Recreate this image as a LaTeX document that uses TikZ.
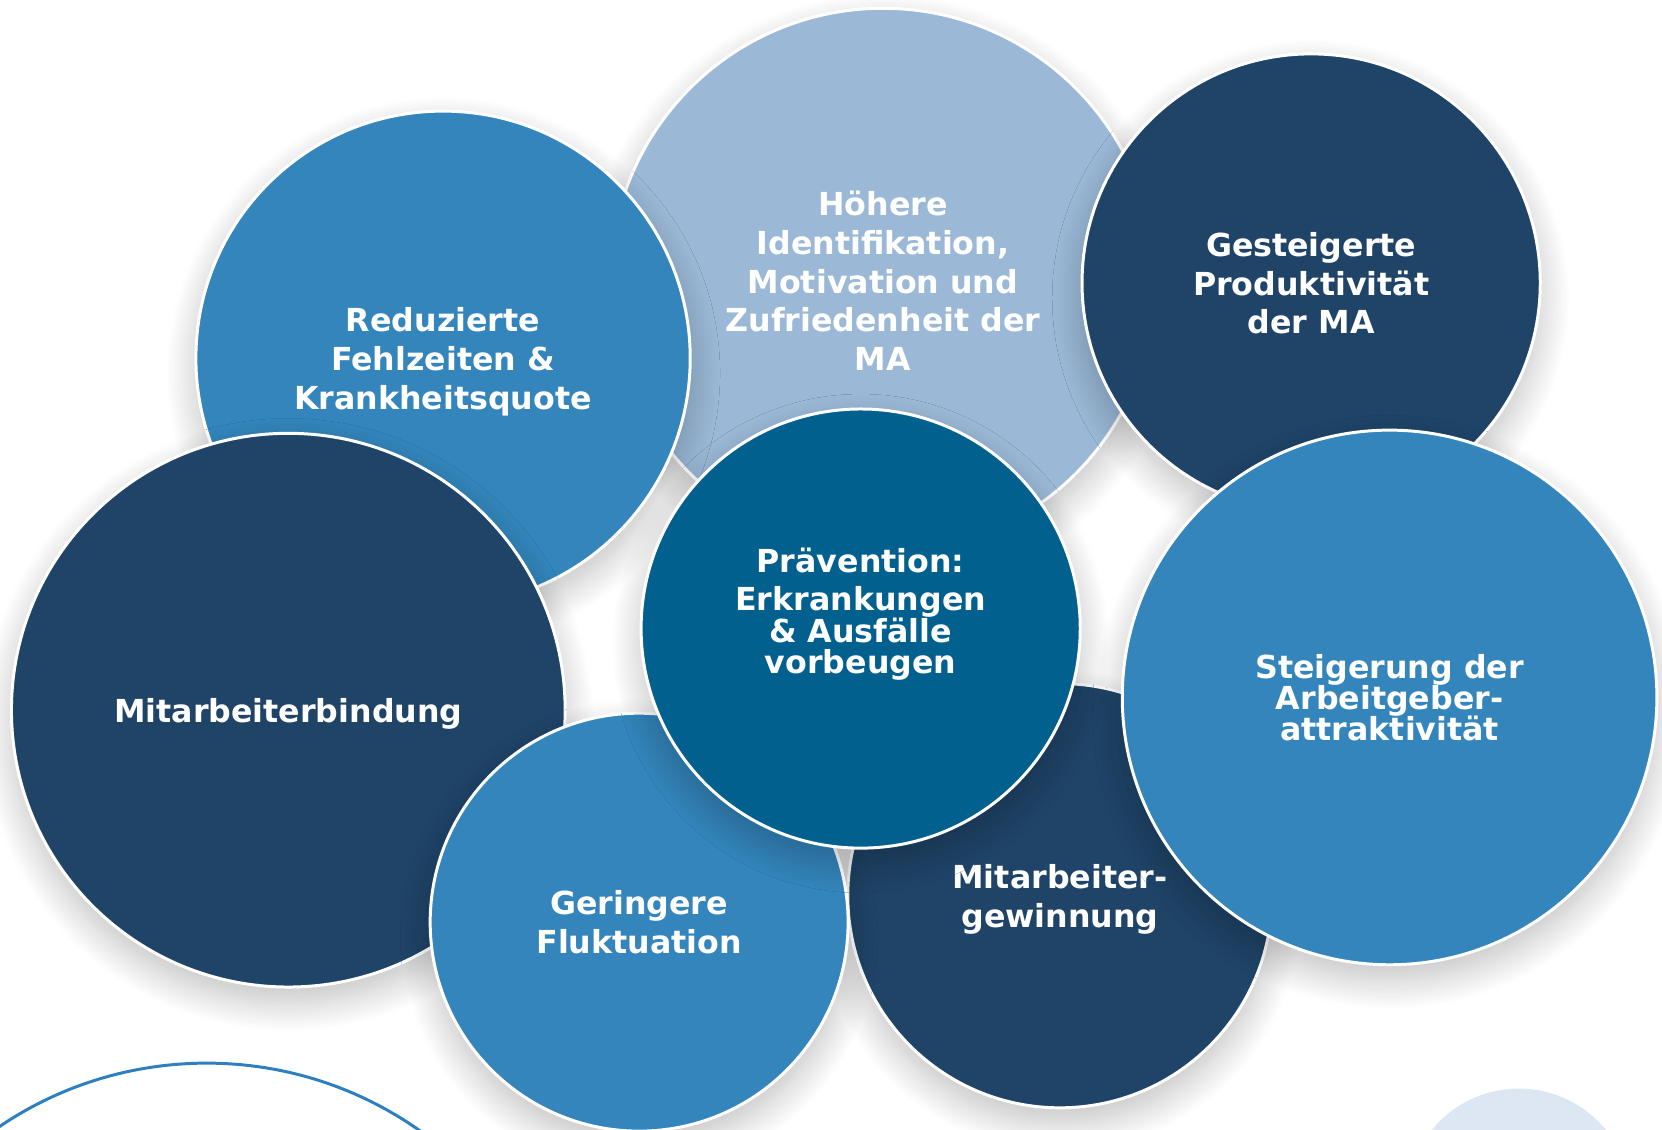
\documentclass[tikz,border=0pt]{standalone}
\usepackage{fontspec}
\setmainfont{DejaVu Sans}
\usetikzlibrary{shadows.blur}

\definecolor{navy}{RGB}{31,68,104}
\definecolor{midblue}{RGB}{51,133,187}
\definecolor{lightblue}{RGB}{155,185,215}
\definecolor{deepblue}{RGB}{2,96,143}
\definecolor{paleblue}{RGB}{220,231,243}
\definecolor{lineblue}{RGB}{46,127,192}

\tikzset{
  bubble/.style={circle, draw=white, line width=0.8pt, inner sep=0pt, minimum size=#1*0.02cm,
    blur shadow={shadow xshift=0pt, shadow yshift=-4pt, shadow blur radius=8pt,
      shadow blur steps=24, shadow opacity=25}},
  txt/.style={text=white, align=center, text depth=0pt, font=\fontsize{8.5}{10.4}\selectfont\bfseries}
}

\begin{document}
\begin{tikzpicture}[x=0.01cm, y=-0.01cm]
	\useasboundingbox (0,0) rectangle (1568,1066);
	\clip (0,0) rectangle (1568,1066);
	% Kreise am unteren Rand
	\draw [lineblue, line width=0.8pt] (195,1352) circle [radius=349];
	\fill [paleblue] (1433,1133) circle [radius=106];
	% Blasen, von hinten nach vorne
	\node[bubble=257, fill=lightblue, txt] (hoehere) at (833,265) {H\"ohere\\Identifikation,\\Motivation und\\Zufriedenheit der\\MA};
	\node[bubble=216, fill=navy, txt] (gesteigert) at (1237,267) {Gesteigerte\\Produktivit\"at\\der MA};
	\node[bubble=233, fill=midblue, txt] (reduziert) at (418,338) {Reduzierte\\Fehlzeiten \&\\Krankheitsquote};
	\node[bubble=261, fill=navy, txt] (bindung) at (272,670) {Mitarbeiterbindung};
	\node[bubble=200, fill=navy, txt] (gewinnung) at (1000,845) {Mitarbeiter-\\gewinnung};
	\node[bubble=197, fill=midblue, txt] (geringer) at (603,870) {Geringere\\Fluktuation};
	\node[bubble=252, fill=midblue, txt] (steigerung) at (1311,658) {Steigerung der\\[-2pt]Arbeitgeber-\\[-2pt]attraktivit\"at};
	\node[bubble=207, fill=deepblue] (praevention) at (812,593) {};
	\node[txt] (praevention-t) at ([yshift=0.17cm]praevention.center) {Pr\"avention:\\Erkrankungen\\[-2pt]\& Ausf\"alle\\[-2pt]vorbeugen};
\end{tikzpicture}
\end{document}
